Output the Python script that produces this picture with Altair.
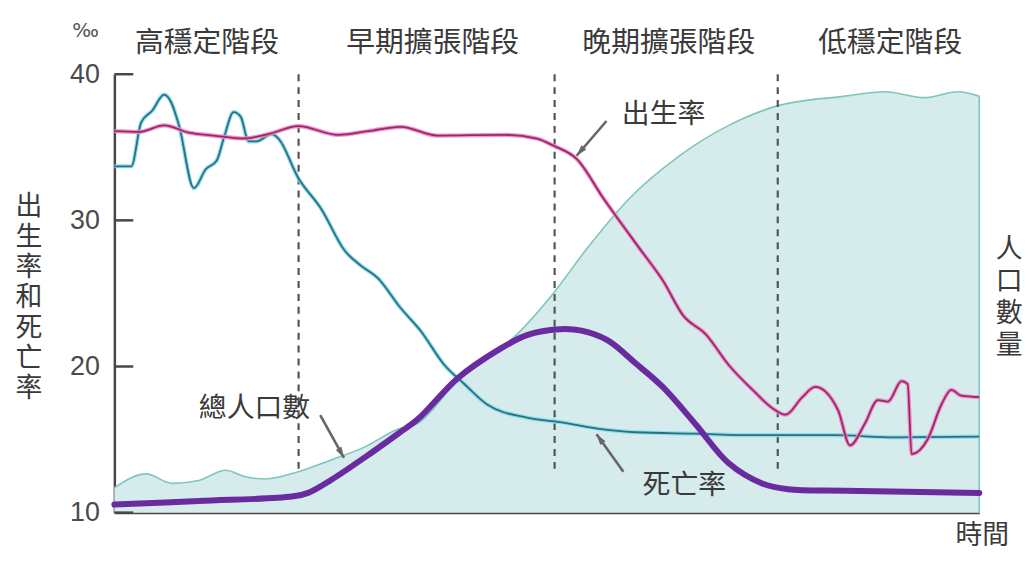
import altair as alt
import pandas as pd

# ---------------- data ----------------
birth_t = [0, 2.87, 5.75, 8.62, 11.49, 14.94, 17.82, 21.26, 25.86, 29.31, 33.1, 37.36,
           45.06, 48.85, 50.8, 53.45, 56.55, 60.69, 63.45, 65.75, 68.39, 71.03, 73.79,
           76.44, 77.59, 79.54, 81.03, 83.68, 85.06, 86.78, 88.28, 89.43, 91.03, 91.72,
           92.18, 94.02, 95.63, 96.78, 97.93, 100]
birth_v = [36.1, 36.05, 36.5, 36.0, 35.8, 35.6, 35.9, 36.45, 35.85, 36.1, 36.4, 35.8,
           35.85, 35.6, 35.1, 34.2, 31.5, 28.1, 25.85, 23.5, 22.2, 20.1, 18.4,
           17.0, 16.7, 17.9, 18.6, 17.0, 14.6, 16.1, 17.7, 17.6, 19.0, 18.8,
           14.0, 15.0, 17.4, 18.4, 18.0, 17.9]

death_t = [0, 1.95, 3.1, 4.37, 5.75, 6.55, 7.47, 9.2, 10.57, 11.84, 12.64, 13.79, 14.6,
           15.52, 16.44, 18.16, 18.97, 21.26, 23.9, 26.67, 28.5, 30.46, 33.1, 35.4,
           38.16, 40.46, 43.1, 47.7, 51.5, 56.55, 60.3, 67.2, 74.1, 83.3, 90.2, 100]
death_v = [33.7, 33.7, 36.7, 37.5, 38.6, 38.1, 36.5, 32.2, 33.5, 34.1, 35.6, 37.4, 37.1,
           35.4, 35.4, 35.9, 35.6, 32.9, 30.8, 27.9, 26.9, 26.05, 24.0, 22.45,
           20.1, 18.8, 17.4, 16.5, 16.2, 15.7, 15.5, 15.4, 15.3, 15.3, 15.15, 15.2]

pop_t = [0, 3.68, 6.67, 9.77, 12.87, 15.17, 17.47, 21.26, 25.06, 28.97, 32.76, 35.06,
         39.66, 44.25, 46.9, 50.34, 54.94, 59.54, 65.29, 71.03, 76.44, 84.48, 89.08,
         93.68, 97.47, 100]
pop_v = [11.7, 12.65, 12.0, 12.2, 12.9, 12.45, 12.3, 12.8, 13.6, 14.5, 15.7, 16.1,
         19.0, 21.0, 22.4, 24.7, 28.3, 31.5, 34.4, 36.5, 37.8, 38.5, 38.8,
         38.4, 38.8, 38.5]

nat_t = [0, 9.8, 20.5, 22.4, 25.1, 29.0, 32.8, 35.1, 39.7, 44.3, 47.7, 51.5, 54.0, 57.0,
         60.3, 63.4, 67.2, 71.0, 74.9, 77.9, 84.5, 100]
nat_v = [10.55, 10.8, 11.1, 11.35, 12.25, 13.8, 15.4, 16.4, 19.2, 21.1, 22.15, 22.55, 22.45, 21.8,
         20.2, 18.6, 16.05, 13.4, 12.0, 11.6, 11.5, 11.35]

y_ticks = [10, 20, 30, 40]
stage_names = ["高穩定階段", "早期擴張階段", "晚期擴張階段", "低穩定階段"]
stage_centers = [10.7, 36.8, 64.1, 89.7]
stage_bounds = [21.3, 50.9, 76.7]
bound_top = [40, 40, 40]
bound_bottom = [13.0, 13.0, 13.0]

note_labels = ["出生率", "總人口數", "死亡率"]
note_t = [63.5, 16.2, 65.9]
note_v = [37.2, 17.1, 11.8]

arrow_t1 = [56.9, 23.8, 58.85]
arrow_v1 = [36.8, 16.67, 12.8]
arrow_t2 = [53.45, 26.55, 55.75]
arrow_v2 = [34.42, 13.74, 15.37]
arrow_angle = [220.6, 150.8, 324.6]

# ---------------- tables ----------------
birth = pd.DataFrame({"t": birth_t, "v": birth_v})
death = pd.DataFrame({"t": death_t, "v": death_v})
pop = pd.DataFrame({"t": pop_t, "v": pop_v})
nat = pd.DataFrame({"t": nat_t, "v": nat_v})
ticks = pd.DataFrame({"v": y_ticks})
stages = pd.DataFrame({"t": stage_centers, "name": stage_names})
bounds = pd.DataFrame({"t": stage_bounds, "v": bound_top, "v2": bound_bottom})
notes = pd.DataFrame({"t": note_t, "v": note_v, "label": note_labels})
arrows = pd.DataFrame({"t": arrow_t1, "v": arrow_v1, "t2": arrow_t2, "v2": arrow_v2,
                       "angle": arrow_angle})
edge = pd.DataFrame({"t": [pop_t[-1]], "v": [10], "v2": [pop_v[-1]]})
one = pd.DataFrame({"k": [0]})

CJK = "Noto Sans CJK TC"
TXT = "#3a3a3a"
AX = "#474747"

xscale = alt.Scale(domain=[0, 100], nice=False, zero=False, padding=0)
yscale = alt.Scale(domain=[10, 40], nice=False, zero=False)
xaxis = alt.Axis(labels=False, ticks=False, grid=False, title=None,
                 domainColor=AX, domainWidth=2.5)
yaxis = alt.Axis(values=y_ticks, ticks=False, grid=False, title=None,
                 labelFont="Liberation Sans", labelFontSize=27, labelColor="#4a4a4a",
                 labelPadding=15, domainColor=AX, domainWidth=2.5)


def X(f="t"):
    return alt.X(f"{f}:Q", scale=xscale, axis=xaxis)


def Y(f="v"):
    return alt.Y(f"{f}:Q", scale=yscale, axis=yaxis)


area = alt.Chart(pop).mark_area(
    interpolate="monotone", color="#d6ebeb", opacity=1,
    line={"color": "#7cc6ba", "strokeWidth": 1.6}
).encode(x=X(), y=Y(), y2=alt.datum(10))

edge_rule = alt.Chart(edge).mark_rule(color="#7cc6ba", strokeWidth=1.6).encode(
    x=X(), y=Y(), y2=alt.Y2("v2"))

dashes = alt.Chart(bounds).mark_rule(
    color="#555555", strokeWidth=2.2, strokeDash=[7, 6]
).encode(x=X(), y=Y(), y2=alt.Y2("v2"))

birth_halo = alt.Chart(birth).mark_line(
    interpolate="monotone", color="#f088c6", strokeWidth=4.2, opacity=0.9
).encode(x=X(), y=Y())
birth_core = alt.Chart(birth).mark_line(
    interpolate="monotone", color="#9a2868", strokeWidth=1.8
).encode(x=X(), y=Y())

death_halo = alt.Chart(death).mark_line(
    interpolate="monotone", color="#86dcec", strokeWidth=4.2, opacity=0.9
).encode(x=X(), y=Y())
death_core = alt.Chart(death).mark_line(
    interpolate="monotone", color="#2c6f80", strokeWidth=1.8
).encode(x=X(), y=Y())

nat_line = alt.Chart(nat).mark_line(
    interpolate="catmull-rom", color="#6a2ba0", strokeWidth=6, strokeCap="round"
).encode(x=X(), y=Y())

tick_rules = alt.Chart(ticks).mark_rule(color=AX, strokeWidth=2.5).encode(
    y=Y(), x=alt.value(0), x2=alt.value(19))

stage_text = alt.Chart(stages).mark_text(
    font=CJK, fontSize=29, color=TXT, baseline="middle", align="center"
).encode(x=X(), y=alt.value(-31), text="name:N")

note_text = alt.Chart(notes).mark_text(
    font=CJK, fontSize=28, color=TXT, baseline="middle", align="center"
).encode(x=X(), y=Y(), text="label:N")

arrow_lines = alt.Chart(arrows).mark_rule(color="#666666", strokeWidth=2.6).encode(
    x=X(), y=Y(), x2=alt.X2("t2"), y2=alt.Y2("v2"))
arrow_heads = alt.Chart(arrows).mark_point(
    shape="M0,0L0.5,1.7L-0.5,1.7Z", filled=True, size=170, color="#666666", opacity=1
).encode(x=X("t2"), y=Y("v2"), angle=alt.Angle("angle:Q", scale=None))

left_title = alt.Chart(one).mark_text(
    font=CJK, fontSize=27, color=TXT, lineBreak="\n", lineHeight=30.5,
    baseline="middle", align="center"
).encode(x=alt.value(-86), y=alt.value(134), text=alt.value("出\n生\n率\n和\n死\n亡\n率"))

right_title = alt.Chart(one).mark_text(
    font=CJK, fontSize=27, color=TXT, lineBreak="\n", lineHeight=32,
    baseline="middle", align="center"
).encode(x=alt.value(900), y=alt.value(177), text=alt.value("人\n口\n數\n量"))

time_label = alt.Chart(one).mark_text(
    font=CJK, fontSize=27, color=TXT, baseline="middle", align="center"
).encode(x=alt.value(873), y=alt.value(465), text=alt.value("時間"))

permil = alt.Chart(one).mark_text(
    font="DejaVu Sans", fontSize=20, color="#555555", baseline="middle", align="center"
).encode(x=alt.value(-29), y=alt.value(-43), text=alt.value("‰"))

chart = alt.layer(
    area, edge_rule, dashes,
    death_halo, death_core, birth_halo, birth_core,
    nat_line, tick_rules,
    arrow_lines, arrow_heads, note_text, stage_text,
    left_title, right_title, time_label, permil,
).properties(
    width=870, height=441,
    padding={"left": 107, "top": 65, "right": 46, "bottom": 38},
    autosize=alt.AutoSizeParams(type="none"),
    background="white",
).configure_view(stroke=None)

chart.save("out.html", embed_options={"renderer": "svg", "actions": False})
